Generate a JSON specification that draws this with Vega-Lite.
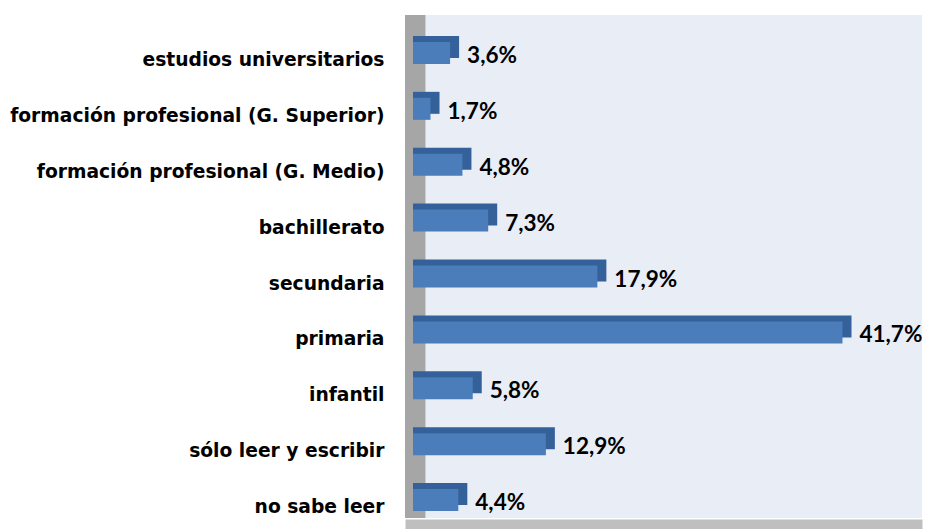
{
  "$schema": "https://vega.github.io/schema/vega-lite/v6.json",
  "autosize": {"type": "none"},
  "padding": {"left": 405, "top": 15, "right": 12, "bottom": 11},
  "width": 517,
  "height": 503,
  "background": "white",
  "config": {"view": {"fill": "#E9EDF6", "stroke": null}},
  "data": {"values": [
    {"nivel": "estudios universitarios", "pct": 3.6, "label": "3,6%"},
    {"nivel": "formación profesional (G. Superior)", "pct": 1.7, "label": "1,7%"},
    {"nivel": "formación profesional (G. Medio)", "pct": 4.8, "label": "4,8%"},
    {"nivel": "bachillerato", "pct": 7.3, "label": "7,3%"},
    {"nivel": "secundaria", "pct": 17.9, "label": "17,9%"},
    {"nivel": "primaria", "pct": 41.7, "label": "41,7%"},
    {"nivel": "infantil", "pct": 5.8, "label": "5,8%"},
    {"nivel": "sólo leer y escribir", "pct": 12.9, "label": "12,9%"},
    {"nivel": "no sabe leer", "pct": 4.4, "label": "4,4%"}
  ]},
  "encoding": {
    "y": {
      "field": "nivel", "type": "nominal", "sort": null,
      "scale": {"paddingInner": 0, "paddingOuter": 0},
      "axis": {
        "title": null, "ticks": false, "domain": false, "labelPadding": 21,
        "labelOffset": 17, "labelFont": "DejaVu Sans", "labelFontWeight": "bold",
        "labelFontSize": 18.7, "labelColor": "#000000", "labelLimit": 500
      }
    }
  },
  "layer": [
    {
      "mark": {"type": "rule", "color": "#A6A6A6", "strokeWidth": 20},
      "encoding": {
        "x": {"datum": 0.2, "type": "quantitative", "scale": {"domain": [-0.777, 49.42], "nice": false, "zero": false},
          "axis": {"title": null, "labels": false, "ticks": false, "grid": false, "domain": true,
            "domainColor": "#BFBFBF", "domainWidth": 10, "offset": 6}},
        "y": null
      }
    },
    {
      "mark": {"type": "bar", "color": "#34619A", "size": 22, "xOffset": 9, "yOffset": 4},
      "encoding": {
        "x": {"field": "pct", "type": "quantitative"},
        "x2": {"datum": 0}
      }
    },
    {
      "mark": {"type": "bar", "color": "#4A7DBA", "size": 22, "yOffset": 10},
      "encoding": {
        "x": {"field": "pct", "type": "quantitative"},
        "x2": {"datum": 0}
      }
    },
    {
      "mark": {"type": "text", "align": "left", "baseline": "middle", "dx": 17, "yOffset": 13,
        "font": "Lato", "fontWeight": "bold", "fontSize": 22.5, "color": "#000000"},
      "encoding": {
        "x": {"field": "pct", "type": "quantitative"},
        "text": {"field": "label"}
      }
    }
  ]
}
